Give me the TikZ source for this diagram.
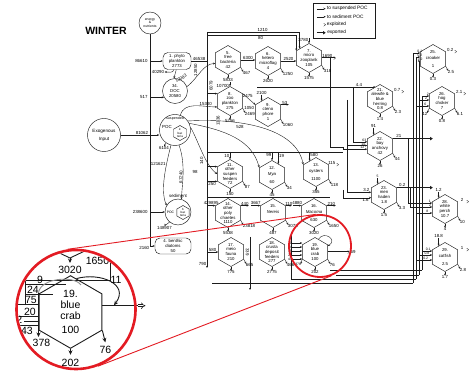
\documentclass[tikz,border=0pt]{standalone}
\usepackage{fontspec}
\setmainfont{Liberation Sans}
\usetikzlibrary{positioning,arrows.meta,shapes.geometric,calc}
\definecolor{lensRed}{HTML}{E31B23}
\definecolor{inkBlack}{HTML}{1C1C1C}
\definecolor{loopGrey}{HTML}{8E8E8E}

\begin{document}
\begin{tikzpicture}[x=1pt, y=-1pt,
    hx/.style={regular polygon, regular polygon sides=6, shape border rotate=30,
      draw=inkBlack, line width=0.45pt, minimum size=29pt, inner sep=-4pt,
      align=center, font=\fontsize{4.3}{4.6}\selectfont},
    pool/.style={circle, draw=inkBlack, line width=0.45pt, inner sep=-2pt,
      align=center, font=\fontsize{4.3}{4.6}\selectfont},
    box/.style={draw=inkBlack, line width=0.45pt, rounded corners=5pt, inner sep=0.5pt,
      align=center, font=\fontsize{4.3}{4.6}\selectfont},
    num/.style={font=\fontsize{4.4}{4.6}\selectfont, inner sep=0.3pt},
    wee/.style={font=\fontsize{3.4}{3.6}\selectfont, inner sep=0.2pt},
    ln/.style={draw=inkBlack, line width=0.4pt},
    fl/.style={ln, -{Stealth[length=2.2pt, width=1.9pt]}},
    sus/.style={ln, -{Stealth[open, length=2.4pt, width=2.2pt]}},
    expl/.style={draw=inkBlack, line width=0.3pt, double=white, double distance=0.8pt, -{Implies}},
    expo/.style={draw=inkBlack, line width=1pt, -{Triangle[length=2.6pt, width=3.2pt]}},
    big/.style={font=\fontsize{10.5}{11}\selectfont, inner sep=0.5pt},
    zl/.style={draw=inkBlack, line width=0.9pt},
    zf/.style={zl, -{Stealth[length=4.5pt, width=4pt]}},
    lens/.style={circle, draw=lensRed, inner sep=0pt}]
  \fill[white] (0,0) rectangle (469,374);
  \useasboundingbox (0,0) rectangle (469,374);
  \node[font=\bfseries\fontsize{10.5}{12}\selectfont] (title) at (106,31) {WINTER};

  % legend
  \node[draw=inkBlack, line width=0.5pt, minimum width=62pt, minimum height=35pt] (legend) at (344,20.5) {};
  \foreach \st/\tx [count=\i] in {sus/to suspended POC, fl/to sediment POC, expl/exploited, expo/exported}
    \draw[\st] ($(legend.north west)+(4,8*\i-2)$) -- ++(9,0)
      node[anchor=west, xshift=1pt, inner sep=0pt, font=\fontsize{4.8}{5}\selectfont] {\tx};

  % inputs: energy & nutrients bus
  \node[pool, minimum size=22pt, font=\fontsize{3.4}{3.7}\selectfont] (energy) at (150,23) {energy\\\&\\nutrients};
  \node[pool, minimum size=33pt, inner sep=0pt, font=\fontsize{4.6}{8}\selectfont] (exo) at (104,135) {Exogenous\\Input};
  \coordinate (busL) at (150,246);
  \draw[ln] (energy) -- (busL);

  % primary producers and pools
  \node[box, minimum width=28pt, minimum height=17pt] (phyto) at (177,61) {1. phyto\\plankton\\2773};
  \node[pool, minimum size=25pt] (doc) at (175,91) {34.\\DOC\\20580};
  \node[pool, minimum size=31pt] (spoc) at (175,130) {};
  \node[num, font=\fontsize{3.6}{4}\selectfont, below=2.5pt of spoc.north] {suspended};
  \node[num] at ($(spoc.center)+(-8,-3)$) {POC};
  \node[hx, minimum size=15pt, font=\fontsize{3}{3.2}\selectfont] (sbact) at ($(spoc.center)+(5,3)$) {2.\\bac\\teria};
  \node[pool, minimum size=26pt] (sedpoc) at (178,212) {};
  \node[num, above=0.3pt of sedpoc] {sediment};
  \node[num, font=\fontsize{3.4}{4}\selectfont] at ($(sedpoc.center)+(-7.5,0)$) {POC};
  \node[hx, minimum size=14pt, font=\fontsize{3}{3.2}\selectfont] (dbact) at ($(sedpoc.center)+(5,0.5)$) {3.\\bac\\teria};
  \node[box, minimum width=36pt, minimum height=16pt] (diat) at (173,246) {4. benthic\\diatoms\\50};

  \draw[fl] (busL |- phyto.west) node[num, left=2pt] {86610} -- (phyto.west);
  \draw[fl] (busL |- doc.210) node[num, left=2pt] {517} -- (doc.210);
  \draw[fl] (exo.east) -- node[num, above=0.3pt, pos=0.55] {81062} (exo.east -| spoc.west);
  \draw[fl] (busL |- sedpoc.west) node[num, left=2pt] {238600} -- (sedpoc.west);
  \draw[fl] (busL) node[num, below left=0.5pt] {2160} -- (diat.west);

  \node[num] (n40290) at (158,72) {40290};
  \draw[fl] (phyto.-110) to[out=-100, in=0] (n40290.east);
  \draw[fl] (phyto.-95) -- (doc.95);
  \node[num, rotate=30] at (181,78.5) {12083};
  \draw[fl] (spoc.-125) -- ++(-2,3.5) node[num, below=-0.5pt] {6104};
  \draw[fl] (spoc.-105) .. controls (166,165) and (160,190) .. (sedpoc.150) node[num, pos=0.3, left=0.5pt] {121621};
  \draw[fl] (spoc.-75) .. controls (186,165) and (182,185) .. (sedpoc.75) node[num, pos=0.55, sloped, above=0pt] {67240};
  \draw[fl] (sedpoc.-130) to[out=-120, in=60] ++(-5,4) node[num, below=0pt] {148907};

  % main compartments
  \node[hx] (fbact) at (228,60) {5.\\free\\bacteria\\[1pt]42};
  \node[hx] (hflag) at (268,61) {6.\\hetero\\microflag\\[1pt]4};
  \node[hx] (mzoo) at (309,58) {7.\\micro\\zooplank\\[1pt]105};
  \node[hx] (zoopl) at (230,101) {8.\\zoo\\plankton\\[0.5pt]275};
  \node[hx] (cteno) at (268,112) {9.\\cteno\\phore\\[0.5pt]1};
  \node[hx] (osusp) at (230,174) {11.\\other\\suspen\\feeders\\72};
  \node[hx] (mya) at (272,175) {12.\\[1pt]\textit{Mya}\\[3pt]60};
  \node[hx] (oyst) at (316,172) {13.\\[1pt]oysters\\[3pt]1100};
  \node[hx] (opoly) at (228,213) {14.\\other\\poly\\chaetes\\1110};
  \node[hx] (nereis) at (273,213) {15.\\[1pt]\textit{Nereis}\\[3pt]\phantom{0}};
  \node[hx] (macoma) at (314,213) {16.\\[1pt]\textit{Macoma}\\[3pt]630};
  \node[hx] (meio) at (231,252) {17.\\meio\\fauna\\[0.5pt]210};
  \node[hx] (crust) at (272,252) {18.\\crusta\\deposit\\feeders\\277};
  \node[hx] (bcrab) at (315,252) {19.\\blue\\crab\\[0.5pt]100};

  % fish
  \node[hx] (croak) at (433,59) {25.\\[1pt]croaker\\[3pt]1};
  \node[hx] (hogc) at (442,101) {26.\\hog\\choker\\[0.5pt]7};
  \node[hx] (alew) at (380,99) {21.\\alewife \&\\blue\\herring\\0.8};
  \node[hx] (anch) at (380,146) {22.\\bay\\anchovy\\[0.5pt]42};
  \node[hx] (menh) at (384,195) {23.\\men\\haden\\[0.5pt]1.8};
  \node[hx] (wperch) at (445,209) {28.\\white\\perch\\[0.5pt]10.7};
  \node[hx] (catf) at (445,257) {29.\\[1pt]catfish\\[3pt]2.5};

  % middle bus and plankton flows
  \coordinate (busM) at (207,32);
  \coordinate (busMb) at (207,262);
  \draw[ln] (busM) -- (busMb);
  \draw[ln] (phyto.east) -- node[num, above=0.2pt] {46538} (phyto.east -| busM);
  \draw[fl] (doc.20) .. controls (198,78) and (203,64) .. (fbact.195);
  \node[num, rotate=90] at (195.5,70) {12850};
  \draw[fl] (busM) -| node[num, pos=0.3, above=0.2pt] {1210} (mzoo.135);
  \draw[fl] ($(busM)+(0,3.5)$) -| node[num, pos=0.3, below=0.2pt] {80} (mzoo.150);
  \draw[fl] ($(mzoo.north)+(0,-5)$) -- (mzoo.north) node[num, pos=0.3, left=0.3pt] {3780};
  \draw[fl] (fbact.east) -- node[num, above=0.2pt] {6300} (fbact.east -| hflag.west);
  \draw[fl] (hflag.east) -- node[num, above=0.2pt] {2520} (hflag.east -| mzoo.west);
  \draw[expl] (mzoo.east) -- ++(14,0) node[num, pos=0.4, above=0pt] {1690};
  \draw[ln] ($(mzoo.east)+(8,0)$) |- (343,147);
  \draw[fl] (spoc.70) to[out=75, in=180] node[num, pos=0.75, above=0pt] {15300} (zoopl.205);
  \draw[fl] ($(zoopl.north)+(0,-4)$) -- (zoopl.north) node[num, pos=1, left=0.6pt] {10700};
  \draw[fl] (busM |- zoopl.150) -- (zoopl.150);
  \node[num, rotate=90] at ($(busM |- zoopl.150)+(4,-8)$) {6079};
  \draw[fl] (zoopl.30) -- node[num, above=0.3pt, pos=0.4] {2475} (cteno.150);
  \draw[fl] ($(cteno.120)+(0,-6)$) node[num, above=-0.5pt] {2100} -- (cteno.120);
  \draw[fl] (cteno.30) -- ++(8,0) node[num, pos=0.5, above=0pt] {53};
  \draw[fl] (cteno.-30) -- ++(2.5,4.5) node[num, below right=-1.2pt] {1060};
  \node[num] at ($(cteno.west)+(-6,-4)$) {1050};
  \node[num, rotate=90] at ($(zoopl.south)+(-12,5)$) {1336};
  \node[num] at ($(zoopl.south)+(10,11)$) {528};

  % suspended POC to filter feeders
  \draw[sus] (spoc.10) .. controls (198,140) and (205,165) .. (osusp.west);
  \draw[sus] (spoc.25) .. controls (225,130) and (252,140) .. (mya.150);
  \draw[sus] (spoc.35) .. controls (240,118) and (296,128) .. (oyst.150);
  \draw[ln] (busM |- 0,152) -- (343,152);
  \draw[fl] (busM |- osusp.150) -- (osusp.150);
  \node[num] at (195,172) {98};
  \draw[fl] (busM |- osusp.210) -- node[num, below=0.2pt] {250} (osusp.210);
  \node[num, rotate=90] at (201.5,161) {140};
  \draw[fl] (osusp.north |- 0,152) -- (osusp.north) node[num, pos=0.5, left=0.3pt] {10};
  \draw[fl] (mya.north |- 0,152) -- (mya.north) node[num, pos=0.4, left=0.3pt] {99};
  \draw[fl] (mya.60 |- 0,152) -- (mya.60) node[num, pos=0.3, right=0.3pt] {19};
  \draw[fl] (oyst.120 |- 0,152) -- (oyst.120) node[num, pos=0.3, right=0.3pt] {580};
  \draw[expl] (oyst.30) -- ++(10,0) node[num, pos=0.3, above=0pt] {115};

  % benthic row
  \draw[ln] (busM |- 0,197) -- (330,197);
  \draw[fl] (busM |- opoly.150) -- node[num, above=0.2pt] {429895} (opoly.150);
  \draw[fl] (opoly.30) -- ++(8,0) node[num, pos=0.5, above=0pt] {440};
  \draw[fl] ($(nereis.150)+(-9,0)$) -- node[num, above=0.2pt] {3667} (nereis.150);
  \draw[fl] (nereis.30) -- ++(6,0) node[num, pos=0.5, above=0pt] {110};
  \draw[fl] ($(macoma.150)+(-8,0)$) -- node[num, above=0.2pt] {4880} (macoma.150);
  \draw[fl] (macoma.30) -- ++(9,0) node[num, pos=0.5, above=0pt] {210};
  \draw[fl] (busM |- meio.west) -- node[num, above=0.2pt] {580} (meio.west);
  \draw[fl] (busMb) -- ++(0,6) node[num, pos=0.3, left=0.3pt] {790};
  \draw[fl] (250,237) -- (250,290);
  \node[num, rotate=-90] at (247.5,252) {339};
  \draw[ln] (291,232) -- (291,279);
  \foreach \dy/\lab in {-9/9, -5/24, -1/75, 3/20, 7/43}
    \draw[fl] ($(bcrab.west)+(-10,\dy)$) node[wee, left=0pt] {\lab} -- ++(10,0);
  \draw[fl] (bcrab.-150) -- ++(-1.5,4.5) node[wee, below left=-1pt] {378};
  \draw[fl] (bcrab.75) .. controls +(6,-9) and +(10,-6) .. (bcrab.25);
  \draw[expl] (bcrab.east) -- ++(22,0) node[num, right=0.5pt] {69};

  % outflows from every compartment
  \foreach \nd/\dn/\rs in {fbact/5833/467, hflag/2620/1250, mzoo/1575/318, zoopl/5756/2469,
      osusp/150/87, mya/45/34, oyst/355/118, opoly/5538/23818, nereis/487/3073,
      macoma/3020/1650, meio/775/665, crust/2775/466, bcrab/202/76, croak/0.3/2.5,
      alew/1.4/2.3, anch/26/44, menh/1.5/3.3, hogc/0.8/6.1, wperch/4/10, catf/1.7/2.8} {
    \draw[fl] (\nd.south) -- ++(0,4) node[num, below=-0.6pt] {\dn};
    \draw[fl] (\nd.-30) -- ++(2.5,4.5) node[num, below right=-1.2pt] {\rs};
  }

  % fish feeding lines
  \draw[fl] (257,87) -- (375.5,87) node[num, pos=0.86, above=0pt] {4.4};
  \draw[fl] (353,87) |- (anch.162) node[wee, pos=0.9, above=0pt] {63};
  \draw[fl] (347,100) |- (anch.178) node[wee, pos=0.9, above=0pt] {14};
  \draw[fl] (343,147) |- (anch.194) node[wee, pos=0.9, above=0pt] {12};
  \draw[fl] (347,140) |- (menh.168) node[num, pos=0.9, above=0pt] {3.2};
  \draw[fl] (343,190) |- (menh.192) node[num, pos=0.9, below=0pt] {1.6};
  \draw[fl] ($(anch.120)+(0,-7)$) node[num, above=-0.5pt] {91} -- (anch.120);
  \draw[fl] ($(menh.120)+(0,-6)$) node[wee, above=-0.5pt] {5} -- (menh.120);
  \draw[expo] (anch.30) -- ++(40,0) node[num, pos=0.15, above=0pt] {21};
  \draw[expo] (menh.30) -- ++(36,0) node[num, pos=0.15, above=0pt] {0.2};
  \foreach \nd/\ex in {croak/0.2, hogc/2.1, alew/0.7, wperch/2, catf/1}
    \draw[expl] (\nd.30) -- ++(11,0) node[num, pos=0.4, above=0pt] {\ex};

  % right buses to the fish
  \draw[fl] (413,283) |- (croak.west |- 0,53) node[wee, pos=0.97, above=0pt] {0.1};
  \draw[fl] (416,279) |- (croak.west |- 0,57) node[wee, pos=0.97, above=0pt] {0.2};
  \draw[fl] (419,275) |- (croak.west |- 0,61) node[wee, pos=0.97, above=0pt] {0.2};
  \draw[fl] (422,270) |- (hogc.west |- 0,96) node[wee, pos=0.9, above=0pt] {2};
  \draw[fl] (419,100) -- (hogc.west |- 0,100) node[wee, pos=0.7, above=0pt] {2};
  \draw[fl] (416,106) -- (hogc.west |- 0,106) node[wee, pos=0.7, above=0pt] {6};
  \draw[fl] (hogc.-150) -- ++(-2,4.5) node[num, below left=-1pt] {12};
  \draw[fl] (408,139) |- (wperch.west |- 0,203) node[wee, pos=0.95, above=0pt] {1};
  \draw[fl] (410,188) |- (wperch.west |- 0,207) node[wee, pos=0.95, above=0pt] {2};
  \draw[fl] (416,213) -- (wperch.west |- 0,213) node[wee, pos=0.7, above=0pt] {8};
  \draw[fl] ($(wperch.120)+(0,-6)$) node[num, above=-0.5pt] {1.2} -- (wperch.120);
  \draw[fl] (422,251) -- (catf.west |- 0,251) node[wee, pos=0.6, above=0pt] {0.1};
  \draw[fl] (419,255) -- (catf.west |- 0,255) node[wee, pos=0.6, above=0pt] {0.8};
  \draw[fl] (416,260) -- (catf.west |- 0,260) node[wee, pos=0.6, above=0pt] {0.2};
  \draw[fl] ($(catf.120)+(0,-8)$) node[num, above=-0.5pt] {18.8} -- (catf.120);
  \draw[ln] (212,283) -- (413,283);
  \draw[ln] (291,279) -- (416,279);
  \draw[ln] (336,275) -- (419,275);
  \draw[ln] (330,270) -- (422,270);

  % magnified view of the blue crab compartment
  \begin{scope}
    \clip (76,309.5) circle (58pt);
    \node[hx, minimum size=56pt, line width=0.9pt, big] (bcrabZ) at (70.5,312) {19.\\blue\\crab\\[3pt]100};
    \draw[zl] (32,240) -- (70,258) -- (108,240);
    \draw[zl] (110,238) -- (110,280) -- (25,280) -- (25,304) -- (bcrabZ.west |- 0,304);
    \draw[zf] (70,258) -- ++(0,5) node[big, below=2.5pt] {3020};
    \draw[zf] (99,245.5) -- ++(2.5,11) node[big, below=0pt, xshift=-4pt] {1650};
    \draw[zl] (25,284) -- (66,284);
    \draw[zl] (25,294) -- (53.2,294);
    \draw[zl] (15,304) -- (25,304);
    \draw[zl] (18,316) -- (bcrabZ.west |- 0,316);
    \draw[zl] (24,321.5) -- (bcrabZ.west |- 0,321.5);
    \draw[zl] (20,325.5) -- (bcrabZ.west |- 0,325.5);
    \node[big] at (40,280) {9};
    \node[big] at (33,290) {24};
    \node[big] at (31,300) {75};
    \node[big] at (30,311.5) {20};
    \node[big, anchor=east] at (23,320) {2};
    \node[big] at (27,330.5) {43};
    \draw[zl, loopGrey] (38.5,293) .. controls (40,278) and (74,275) .. (81,285);
    \draw[zf] (38.5,293) -- (38.5,337) node[big, below=1pt, xshift=3pt] {378};
    \draw[zf] (bcrabZ.80) .. controls (100,272) and (130,284) .. (114,305.3);
    \node[big] at (116,280) {11};
    \draw[zf] (bcrabZ.south) -- ++(0,6) node[big, below=3pt] {202};
    \draw[zf] (bcrabZ.-30) -- ++(3,12) node[big, below=3pt] {76};
  \end{scope}
  \draw[zl] ($(bcrabZ.east)+(0,-6.3)$) -- ++(36,0) coordinate (zx);
  \draw[expl, line width=0.6pt, double distance=1.6pt] (zx) -- ++(7,0);
  \node[lens, line width=2.6pt, minimum size=119pt] (lensBig) at (76,309.5) {};
  \node[lens, line width=1.8pt, minimum size=62pt] (lensSmall) at (320,246) {};
  \draw[lensRed, line width=0.9pt] (lensBig.98) -- (lensSmall.98);
  \draw[lensRed, line width=0.9pt] (lensBig.-69) -- (lensSmall.-69);
\end{tikzpicture}
\end{document}
